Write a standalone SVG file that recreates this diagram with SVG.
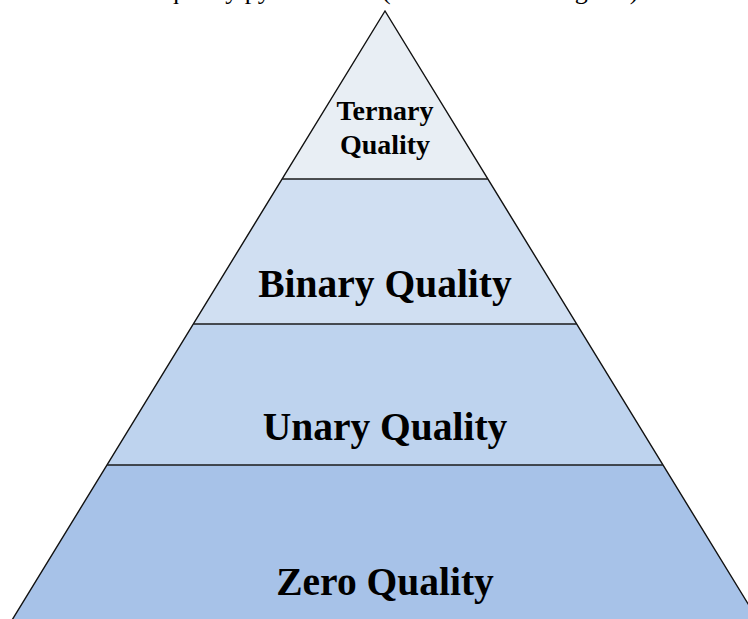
<svg xmlns="http://www.w3.org/2000/svg" width="748" height="619" viewBox="0 0 748 619">
  <style>
    .tier { stroke: none; }
    .edge { fill: none; stroke: #111; stroke-width: 1.4; }
    .divider { stroke: #1a1a1a; stroke-width: 1.5; }
    .label { font-family: "Liberation Serif", "Times New Roman", serif; font-weight: bold; fill: #000; text-anchor: middle; }
    .caption { font-family: "Liberation Serif", "Times New Roman", serif; font-size: 26px; fill: #000; }
  </style>

  <rect width="748" height="619" fill="#ffffff"/>

  <!-- caption line running off the top edge -->
  <text class="caption" x="119" y="-1">The quality pyramid <tspan x="382">(from bottom to highest)</tspan></text>

  <!-- pyramid tiers, apex at (385,11), sides slope 0.612 px per px -->
  <g id="tier-ternary">
    <polygon class="tier" points="385,11 282.2,179 487.8,179" fill="#E8EEF4"/>
    <text class="label" x="385" y="120" font-size="28">Ternary</text>
    <text class="label" x="385" y="154" font-size="28">Quality</text>
  </g>
  <g id="tier-binary">
    <polygon class="tier" points="282.2,179 487.8,179 576.5,324 193.5,324" fill="#D0DFF2"/>
    <text class="label" x="385" y="297" font-size="39.5">Binary Quality</text>
  </g>
  <g id="tier-unary">
    <polygon class="tier" points="193.5,324 576.5,324 662.8,465 107.2,465" fill="#BED3EE"/>
    <text class="label" x="385" y="440" font-size="39.5">Unary Quality</text>
  </g>
  <g id="tier-zero">
    <polygon class="tier" points="107.2,465 662.8,465 761,625 9,625" fill="#A7C2E8"/>
    <text class="label" x="385" y="595" font-size="39.5">Zero Quality</text>
  </g>

  <!-- outline and tier dividers -->
  <g id="connectors">
    <polyline class="edge" points="9,625 385,11 761,625"/>
    <line class="divider" x1="282.2" y1="179" x2="487.8" y2="179"/>
    <line class="divider" x1="193.5" y1="324" x2="576.5" y2="324" stroke="#555"/>
    <line class="divider" x1="107.2" y1="465" x2="662.8" y2="465"/>
  </g>
</svg>
